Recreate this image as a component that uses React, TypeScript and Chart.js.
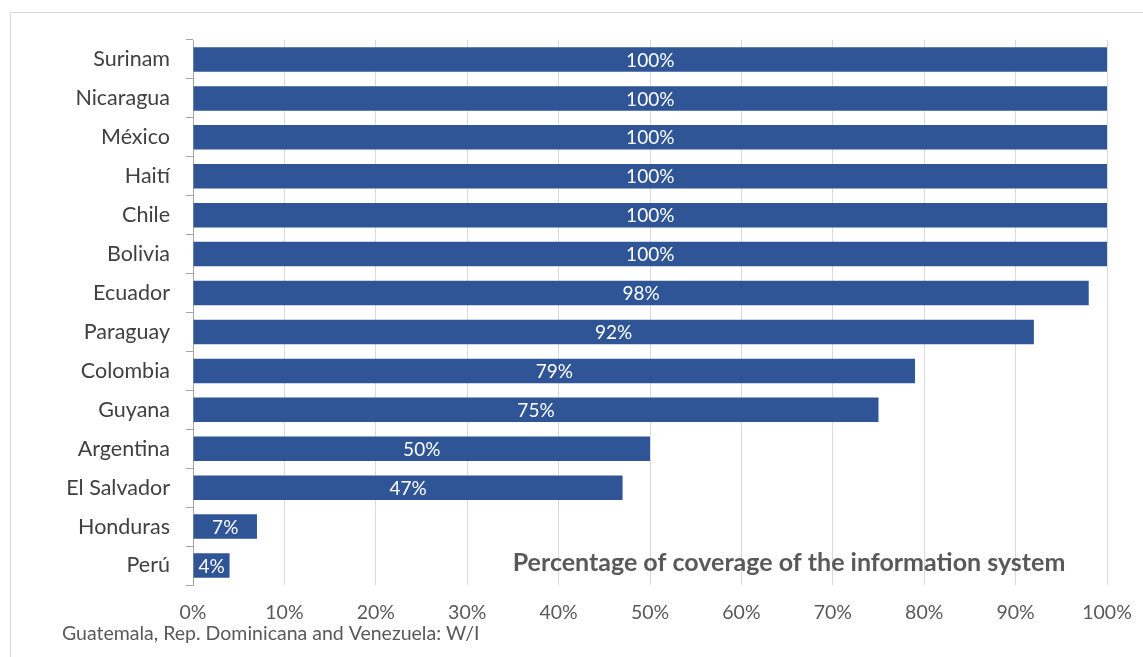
import React, { useEffect, useRef } from "react";
import { Chart, registerables } from "chart.js";

Chart.register(...registerables);

const categories = [
  "Surinam", "Nicaragua", "México", "Haití", "Chile", "Bolivia", "Ecuador",
  "Paraguay", "Colombia", "Guyana", "Argentina", "El Salvador", "Honduras", "Perú",
];
const coverage = [100, 100, 100, 100, 100, 100, 98, 92, 79, 75, 50, 47, 7, 4];
const xTicks = [0, 10, 20, 30, 40, 50, 60, 70, 80, 90, 100];
const titleText = "Percentage of coverage of the information system";
const footnoteText = "Guatemala, Rep. Dominicana and Venezuela: W/I";

const FONT = "Lato, 'Open Sans', sans-serif";

const decorPlugin = {
  id: "decor",
  beforeDraw(chart: any) {
    const ctx = chart.ctx;
    ctx.save();
    ctx.strokeStyle = "#d9d9d9";
    ctx.lineWidth = 1;
    ctx.strokeRect(10.5, 12.5, 1200, 700);
    ctx.restore();
  },
  afterDatasetsDraw(chart: any) {
    const ctx = chart.ctx;
    const meta = chart.getDatasetMeta(0);
    ctx.save();
    ctx.fillStyle = "#ffffff";
    ctx.font = `19px ${FONT}`;
    ctx.textAlign = "center";
    ctx.textBaseline = "middle";
    meta.data.forEach((bar: any, i: number) => {
      const v = chart.data.datasets[0].data[i];
      ctx.fillText(`${v}%`, (bar.x + bar.base) / 2, bar.y + 1);
    });
    ctx.restore();
  },
  afterDraw(chart: any) {
    const ctx = chart.ctx;
    ctx.save();
    ctx.fillStyle = "#595959";
    ctx.font = `bold 25px ${FONT}`;
    ctx.textAlign = "center";
    ctx.textBaseline = "middle";
    ctx.fillText(titleText, 789, 563);
    ctx.font = `19.5px ${FONT}`;
    ctx.textAlign = "left";
    ctx.fillText(footnoteText, 62, 634);
    ctx.restore();
  },
};

export default function App() {
  const ref = useRef<HTMLCanvasElement>(null);
  useEffect(() => {
    document.body.style.margin = "0";
    const chart = new Chart(ref.current!, {
      type: "bar",
      data: {
        labels: categories,
        datasets: [
          {
            data: coverage,
            backgroundColor: "#2F5597",
            barPercentage: 0.63,
            categoryPercentage: 1,
          },
        ],
      },
      options: {
        indexAxis: "y",
        animation: false,
        responsive: false,
        layout: { padding: { top: 40, right: 36, left: 0, bottom: 0 } },
        plugins: { legend: { display: false }, tooltip: { enabled: false } },
        scales: {
          x: {
            min: 0,
            max: 100,
            afterBuildTicks(scale: any) {
              scale.ticks = xTicks.map((v) => ({ value: v }));
            },
            afterFit(scale: any) {
              scale.height = 72;
              scale.paddingLeft = 0;
              scale.paddingRight = 0;
            },
            ticks: {
              callback: (v: any) => `${v}%`,
              color: "#595959",
              font: { family: FONT, size: 19.5 },
              padding: 16,
              maxRotation: 0,
            },
            grid: { color: "#d9d9d9", drawTicks: false, lineWidth: 1 },
            border: { display: false },
          },
          y: {
            afterFit(scale: any) {
              scale.width = 193;
              scale.paddingTop = 0;
              scale.paddingBottom = 0;
            },
            ticks: {
              color: "#404040",
              font: { family: FONT, size: 21.5 },
              padding: 16,
            },
            grid: {
              drawOnChartArea: false,
              drawTicks: true,
              tickLength: 7,
              color: "#a6a6a6",
              offset: true,
            },
            border: { display: true, color: "#a6a6a6" },
          },
        },
      },
      plugins: [decorPlugin],
    });
    return () => chart.destroy();
  }, []);
  return (
    <div style={{ position: "absolute", left: 0, top: 0, width: 1143, height: 657, background: "#fff" }}>
      <canvas ref={ref} width={1143} height={657} style={{ width: 1143, height: 657 }} />
    </div>
  );
}
